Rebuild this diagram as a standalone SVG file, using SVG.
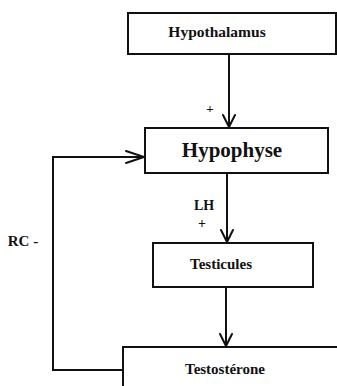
<svg xmlns="http://www.w3.org/2000/svg" width="337" height="386" viewBox="0 0 337 386">
<style>
.box{fill:#fff;stroke:#111;stroke-width:2}
.lbl{font-family:"Liberation Serif","Times New Roman",serif;font-weight:bold;fill:#111;text-anchor:middle}
.ln{fill:none;stroke:#111;stroke-width:2}
.ah{fill:none;stroke:#111;stroke-width:2;stroke-linecap:round;stroke-linejoin:miter}
</style>
<rect width="337" height="386" fill="#fff"/>
<g id="connectors">
<line class="ln" x1="229" y1="54" x2="229" y2="127"/>
<polyline class="ah" points="223,115 229,127 235,115"/>
<line class="ln" x1="227" y1="173" x2="227" y2="242"/>
<polyline class="ah" points="221,230 227,242 233,230"/>
<line class="ln" x1="226" y1="287" x2="226" y2="346"/>
<polyline class="ah" points="220,334 226,346 232,334"/>
<polyline class="ln" points="123,370 53,370 53,157 144,157"/>
<polyline class="ah" points="126,151 144,157 126,163"/>
<text class="lbl" x="210" y="113" font-size="13">+</text>
<text class="lbl" x="204" y="210" font-size="14">LH</text>
<text class="lbl" x="202" y="228" font-size="14">+</text>
<text class="lbl" x="23" y="246" font-size="15">RC -</text>
</g>
<g id="hypothalamus">
<rect class="box" x="128" y="13" width="208" height="41"/>
<text class="lbl" x="217" y="37" font-size="15.5">Hypothalamus</text>
</g>
<g id="hypophyse">
<rect class="box" x="145" y="128" width="183" height="45"/>
<text class="lbl" x="232" y="157" font-size="21">Hypophyse</text>
</g>
<g id="testicules">
<rect class="box" x="153" y="243" width="160" height="44"/>
<text class="lbl" x="221" y="269" font-size="15">Testicules</text>
</g>
<g id="testosterone">
<rect class="box" x="123" y="347" width="230" height="60"/>
<text class="lbl" x="225" y="374" font-size="15">Testostérone</text>
</g>
</svg>
